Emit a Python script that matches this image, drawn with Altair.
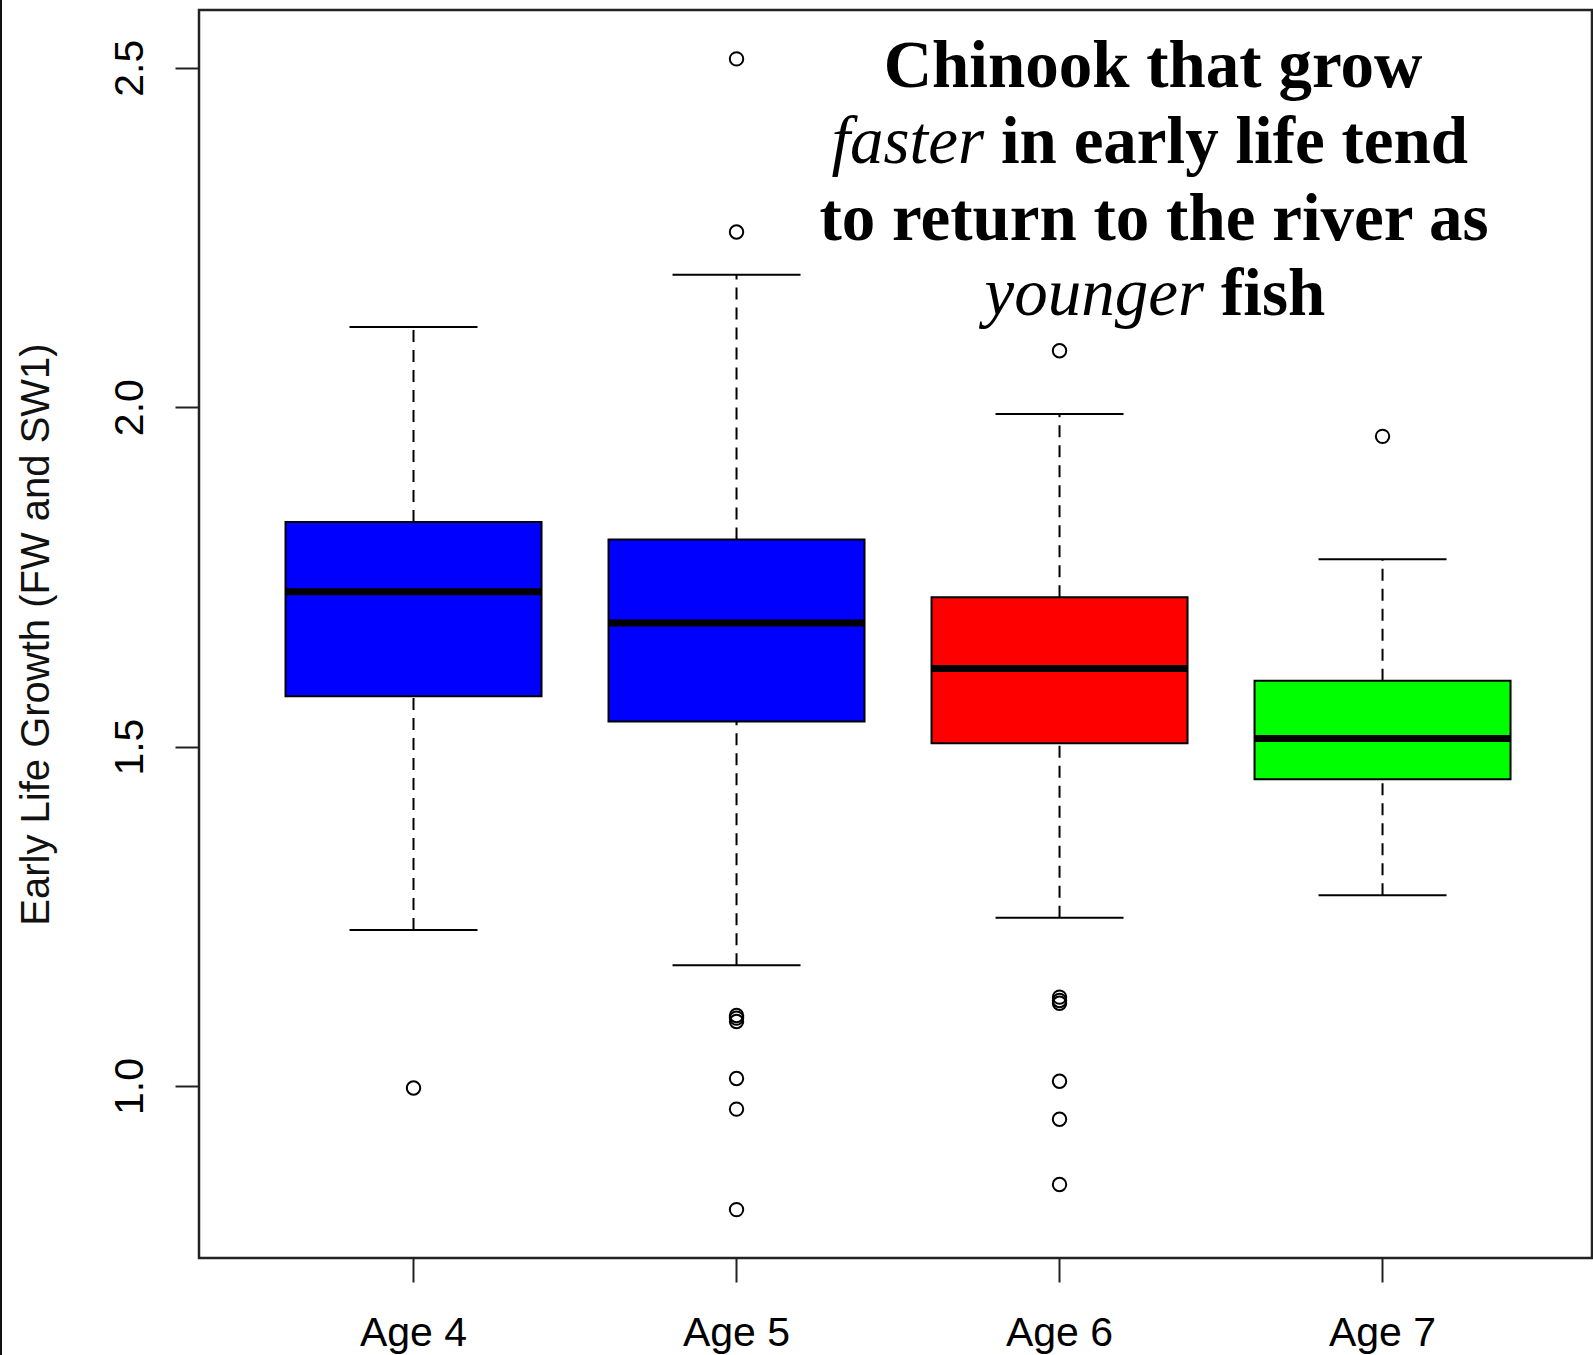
import altair as alt
import pandas as pd

# Box-plot summary per return age
ages = ["Age 4", "Age 5", "Age 6", "Age 7"]
box_colors = ["#0000FF", "#0000FF", "#FF0000", "#00FF00"]
whisker_low = [1.230, 1.178, 1.248, 1.281]
q1 = [1.574, 1.537, 1.505, 1.452]
median = [1.728, 1.682, 1.615, 1.512]
q3 = [1.831, 1.805, 1.720, 1.597]
whisker_high = [2.118, 2.195, 1.990, 1.776]

# Individual outlying fish
outlier_age = ["Age 4",
               "Age 5", "Age 5", "Age 5", "Age 5", "Age 5", "Age 5", "Age 5", "Age 5",
               "Age 6", "Age 6", "Age 6", "Age 6", "Age 6", "Age 6", "Age 6",
               "Age 7"]
outlier_value = [0.997,
                 2.513, 2.258, 1.104, 1.100, 1.095, 1.011, 0.966, 0.818,
                 2.083, 1.131, 1.126, 1.122, 1.007, 0.951, 0.855,
                 1.957]

y_ticks = [1.0, 1.5, 2.0, 2.5]
y_title = "Early Life Growth (FW and SW1)"

note_line1 = "Chinook that grow"
note_line2_italic = "faster"
note_line2_rest = "in early life tend"
note_line3 = "to return to the river as"
note_line4_italic = "younger"
note_line4_rest = "fish"

boxes = pd.DataFrame({
    "age": ages, "low": whisker_low, "q1": q1, "median": median,
    "q3": q3, "high": whisker_high,
})
whiskers = pd.DataFrame({
    "age": ages + ages,
    "start": q3 + whisker_low,
    "end": whisker_high + q1,
})
outliers = pd.DataFrame({"age": outlier_age, "value": outlier_value})

W, H = 1393, 1248
BOX_W = 256
SANS = "Liberation Sans"
SERIF = "Liberation Serif"

x_scale = alt.Scale(domain=ages, paddingInner=0, paddingOuter=0.1563, align=0.525)
y_scale = alt.Scale(domain=[0.7467, 2.585], nice=False, zero=False)

x_enc = alt.X(
    "age:N", scale=x_scale, sort=ages, title=None,
    axis=alt.Axis(
        labelFont=SANS, labelFontSize=41, labelColor="black", labelAngle=0,
        labelBaseline="alphabetic", labelPadding=63, tickSize=24,
        tickWidth=2, tickColor="#222", domain=False, grid=False,
    ),
)

y_axis = alt.Axis(
    values=y_ticks, format=".1f", grid=False, domain=False,
    labelFont=SANS, labelFontSize=41, labelColor="black", labelAngle=270,
    labelAlign="center", labelBaseline="alphabetic", labelPadding=33,
    tickSize=24, tickWidth=2, tickColor="#222",
    title=y_title, titleFont=SANS, titleFontSize=40, titleFontWeight="normal",
    titleColor="#111", titleAngle=270, titleAlign="center",
    titleBaseline="alphabetic", titleX=-151, titleY=624,
)

whisker_layer = alt.Chart(whiskers).mark_rule(
    color="black", strokeWidth=2, strokeDash=[12, 8], opacity=1
).encode(
    x=x_enc,
    y=alt.Y("start:Q", scale=y_scale, axis=y_axis),
    y2="end:Q",
)

cap_base = alt.Chart(boxes).mark_tick(
    color="black", size=128, thickness=2, orient="horizontal", opacity=1
)
cap_high = cap_base.encode(x=x_enc, y=alt.Y("high:Q", scale=y_scale))
cap_low = cap_base.encode(x=x_enc, y=alt.Y("low:Q", scale=y_scale))

box_layer = alt.Chart(boxes).mark_bar(
    size=BOX_W, stroke="black", strokeWidth=2, opacity=1
).encode(
    x=x_enc,
    y=alt.Y("q1:Q", scale=y_scale),
    y2="q3:Q",
    color=alt.Color("age:N", scale=alt.Scale(domain=ages, range=box_colors), legend=None),
)

median_layer = alt.Chart(boxes).mark_tick(
    color="black", size=BOX_W, thickness=7, orient="horizontal", opacity=1
).encode(x=x_enc, y=alt.Y("median:Q", scale=y_scale))

outlier_layer = alt.Chart(outliers).mark_point(
    shape="circle", filled=False, color="black", strokeWidth=2, size=180, opacity=1
).encode(x=x_enc, y=alt.Y("value:Q", scale=y_scale))

one_row = alt.Data(values=[{}])


def note(text, x, y, align, italic=False):
    return alt.Chart(one_row).mark_text(
        text=text, font=SERIF, fontSize=67,
        fontWeight="normal" if italic else "bold",
        fontStyle="italic" if italic else "normal",
        align=align, baseline="alphabetic", color="black",
    ).encode(x=alt.value(x), y=alt.value(y))


notes = [
    note(note_line1, 954, 77, "center"),
    note(note_line2_italic, 785, 153, "right", italic=True),
    note(note_line2_rest, 802, 153, "left"),
    note(note_line3, 955, 230, "center"),
    note(note_line4_italic, 1005, 305, "right", italic=True),
    note(note_line4_rest, 1022, 305, "left"),
]

# Thin page-edge line on the far left
edge = alt.Chart(one_row).mark_rule(color="#111", strokeWidth=2).encode(
    x=alt.value(-198), y=alt.value(-10), y2=alt.value(1345)
)

chart = alt.layer(
    whisker_layer, cap_high, cap_low, box_layer, median_layer, outlier_layer,
    *notes, edge,
).properties(
    width=W, height=H,
    autosize=alt.AutoSizeParams(type="none"),
    padding={"left": 199, "top": 10, "right": 1, "bottom": 97},
    background="white",
).configure_view(
    stroke="#222", strokeWidth=2.5
)

chart.save("out.html", embed_options={"renderer": "svg", "actions": False})
